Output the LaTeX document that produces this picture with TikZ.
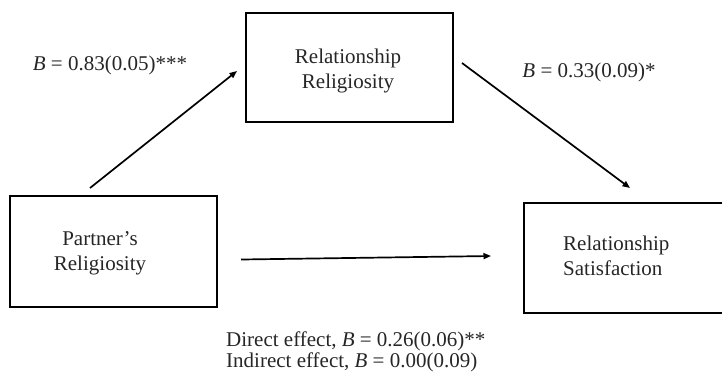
\documentclass[tikz,border=0pt]{standalone}
\usepackage{fontspec}
\setmainfont{Liberation Serif}
\usetikzlibrary{arrows.meta}
\begin{document}
\begin{tikzpicture}[x=1pt,y=-1pt,
  box/.style={draw=black, line width=2.1pt, minimum width=207pt, inner sep=0pt},
  boxtext/.style={align=center, inner sep=0pt, text=black!85, font=\fontsize{21}{25}\selectfont},
  coef/.style={inner sep=0pt, text=black!85, font=\fontsize{21}{25}\selectfont},
  path/.style={line width=1.7pt, -{Triangle[length=7.5pt,width=6pt]}}]
\useasboundingbox (0,0) rectangle (722,376);
% boxes
\node[box, minimum height=109pt] (M) at (349.5,67.5) {};
\node[box, minimum height=111pt] (X) at (113.5,251.5) {};
\node[box, minimum height=110pt] (Y) at (627.5,258) {};
% box texts
\node[boxtext] (Mt) at (348,70.5) {Relationship\\Religiosity};
\node[boxtext] (Xt) at (100,253) {Partner’s\\Religiosity};
\node[boxtext, align=left, anchor=west] (Yt) at (563,255.5) {Relationship\\Satisfaction};
% connector end points
\coordinate (a1) at (90,188);
\coordinate (a2) at (237,71);
\coordinate (b1) at (462,63);
\coordinate (b2) at (630,188);
\coordinate (c1) at (241,259.5);
\coordinate (c2) at (491,256);
\draw[path] (a1) -- (a2);
\draw[path] (b1) -- (b2);
\draw[path] (c1) -- (c2);
% coefficients
\node[coef] (la) at (110,65) {\textit{B} = 0.83(0.05)***};
\node[coef] (lb) at (589,72) {\textit{B} = 0.33(0.09)*};
\node[coef, align=left, anchor=west, font=\fontsize{21}{20.5}\selectfont] (lc) at (226,352)
  {Direct effect, \textit{B} = 0.26(0.06)**\\Indirect effect, \textit{B} = 0.00(0.09)};
\end{tikzpicture}
\end{document}
